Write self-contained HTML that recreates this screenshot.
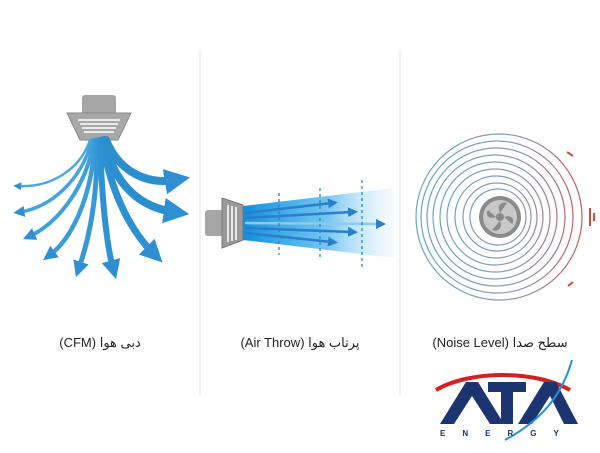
<!DOCTYPE html>
<html><head><meta charset="utf-8"><style>
body{margin:0;background:#fff;width:600px;height:448px;overflow:hidden}
text{font-family:"Liberation Sans","DejaVu Sans",sans-serif}
</style></head><body>
<svg width="600" height="448" viewBox="0 0 600 448" xmlns="http://www.w3.org/2000/svg">
<defs>
<linearGradient id="beam" x1="0" x2="1"><stop offset="0" stop-color="#0f8fe0"/><stop offset="0.55" stop-color="#4fb6ee" stop-opacity="0.8"/><stop offset="1" stop-color="#d8eefa" stop-opacity="0.2"/></linearGradient>
<linearGradient id="ring" gradientUnits="userSpaceOnUse" x1="415" y1="0" x2="590" y2="0"><stop offset="0" stop-color="#6aa3c8"/><stop offset="0.6" stop-color="#8a9ab8"/><stop offset="1" stop-color="#d0504a"/></linearGradient>
<marker id="ah" viewBox="0 0 10 10" refX="4" refY="5" markerWidth="3.2" markerHeight="3.2" orient="auto"><path d="M0,0L10,5L0,10z" fill="#2f8fd0"/></marker>
<marker id="ah2" viewBox="0 0 10 10" refX="4" refY="5" markerWidth="4" markerHeight="4" orient="auto"><path d="M0,0L10,5L0,10z" fill="#2b7fc8"/></marker>
</defs>
<line x1="200" y1="50" x2="200" y2="395" stroke="#e6e6e6"/>
<line x1="400" y1="50" x2="400" y2="395" stroke="#e6e6e6"/>
<!-- diffuser -->
<rect x="82" y="95" width="34" height="20" rx="3" fill="#a5a5a5"/>
<path d="M67,113H131L118,140H80Z" fill="#a8a8a8" stroke="#888" stroke-width="1"/>
<path d="M78,120H120M80,124H118M82,128H116M84,132H114" stroke="#fff" stroke-width="1.5"/>
<g fill="none" stroke-linecap="round">
<path d="M90,140C80,170 50,188 18,186" stroke="#4aa8e0" stroke-width="2.5" marker-end="url(#ah)"/>
<path d="M92,140C82,180 50,208 20,212" stroke="#43a4de" stroke-width="3.5" marker-end="url(#ah)"/>
<path d="M94,140C86,190 55,225 30,236" stroke="#3fa0dc" stroke-width="4" marker-end="url(#ah)"/>
<path d="M95,140C92,200 70,240 50,255" stroke="#3a9cd9" stroke-width="4.5" marker-end="url(#ah)"/>
<path d="M97,140C98,210 85,250 79,268" stroke="#3598d6" stroke-width="5" marker-end="url(#ah)"/>
<path d="M100,140C102,210 108,250 113,268" stroke="#2f92d2" stroke-width="6" marker-end="url(#ah)"/>
<path d="M102,140C112,200 135,235 153,253" stroke="#2d90d0" stroke-width="7" marker-end="url(#ah)"/>
<path d="M104,140C115,190 145,208 174,212" stroke="#2b8ece" stroke-width="8" marker-end="url(#ah)"/>
<path d="M106,140C118,170 145,185 175,180" stroke="#2b8ece" stroke-width="8" marker-end="url(#ah)"/>
</g>
<!-- air throw -->
<rect x="205" y="210" width="20" height="26" rx="3" fill="#a5a5a5"/>
<path d="M222,198L243,205V240L222,248Z" fill="#9a9a9a" stroke="#777"/>
<path d="M228,205V242M232,206V241M236,207V240" stroke="#fff" stroke-width="1.5"/>
<path d="M243,206L395,188V258L243,240Z" fill="url(#beam)"/>
<g stroke="#2a7fc8" stroke-width="2.5" fill="none">
<line x1="245" y1="213" x2="332" y2="203" marker-end="url(#ah2)"/>
<line x1="245" y1="218" x2="352" y2="212" marker-end="url(#ah2)"/>
<line x1="245" y1="223" x2="380" y2="224" stroke="#8ecaf0" marker-end="url(#ah2)"/>
<line x1="245" y1="228" x2="352" y2="232" marker-end="url(#ah2)"/>
<line x1="245" y1="233" x2="332" y2="242" marker-end="url(#ah2)"/>
</g>
<g stroke="#2a8aa8" stroke-width="1.3" stroke-dasharray="3,3">
<line x1="279" y1="193" x2="279" y2="255"/><line x1="320" y1="188" x2="320" y2="260"/><line x1="362" y1="180" x2="362" y2="268"/>
</g>
<!-- noise -->
<g fill="none" stroke="url(#ring)" stroke-width="1.2">
<circle cx="499" cy="217" r="83"/><circle cx="497" cy="217" r="76"/><circle cx="496" cy="217" r="69"/><circle cx="495" cy="217" r="62"/><circle cx="495" cy="217" r="55"/><circle cx="495" cy="217" r="48"/><circle cx="496" cy="217" r="41"/><circle cx="497" cy="217" r="34"/><circle cx="498" cy="217" r="28"/>
</g>
<path d="M590,208v18M594,213v8M567,152l6,4M568,286l5-4" stroke="#d04a44" stroke-width="2"/>
<circle cx="500" cy="217" r="21" fill="#8a8a8a"/>
<circle cx="500" cy="217" r="17" fill="#c8c8c8"/>
<g fill="#8a8a8a"><circle cx="500" cy="217" r="4"/>
<path d="M500,213C496,205 502,201 507,203Z"/><path d="M504,217C512,214 515,220 512,224Z"/><path d="M500,221C503,229 497,232 492,230Z"/><path d="M496,217C488,220 485,214 488,210Z"/></g>
<!-- labels -->
<text x="100" y="347" font-size="13" text-anchor="middle" fill="#222" direction="rtl">دبی هوا (CFM)</text>
<text x="300" y="347" font-size="13" text-anchor="middle" fill="#222" direction="rtl">پرتاب هوا (Air Throw)</text>
<text x="500" y="347" font-size="13" text-anchor="middle" fill="#222" direction="rtl">سطح صدا (Noise Level)</text>
<!-- logo -->
<path d="M436,390C470,370 535,370 570,390" stroke="#d42020" stroke-width="4" fill="none"/>
<g fill="#1c3570">
<path d="M440,424L466,382H478L504,424H490L472,396L454,424Z"/>
<rect x="488" y="382" width="38" height="10"/><rect x="501" y="382" width="12" height="42"/>
<path d="M518,424L544,382H556L578,424H564L550,396L532,424Z"/>
</g>
<path d="M572,360C562,395 542,420 505,440" stroke="#2090d8" stroke-width="2" fill="none"/>
<text x="440" y="436" font-size="8" fill="#1c3570" font-weight="bold" letter-spacing="17">ENERGY</text>
</svg>
</body></html>
